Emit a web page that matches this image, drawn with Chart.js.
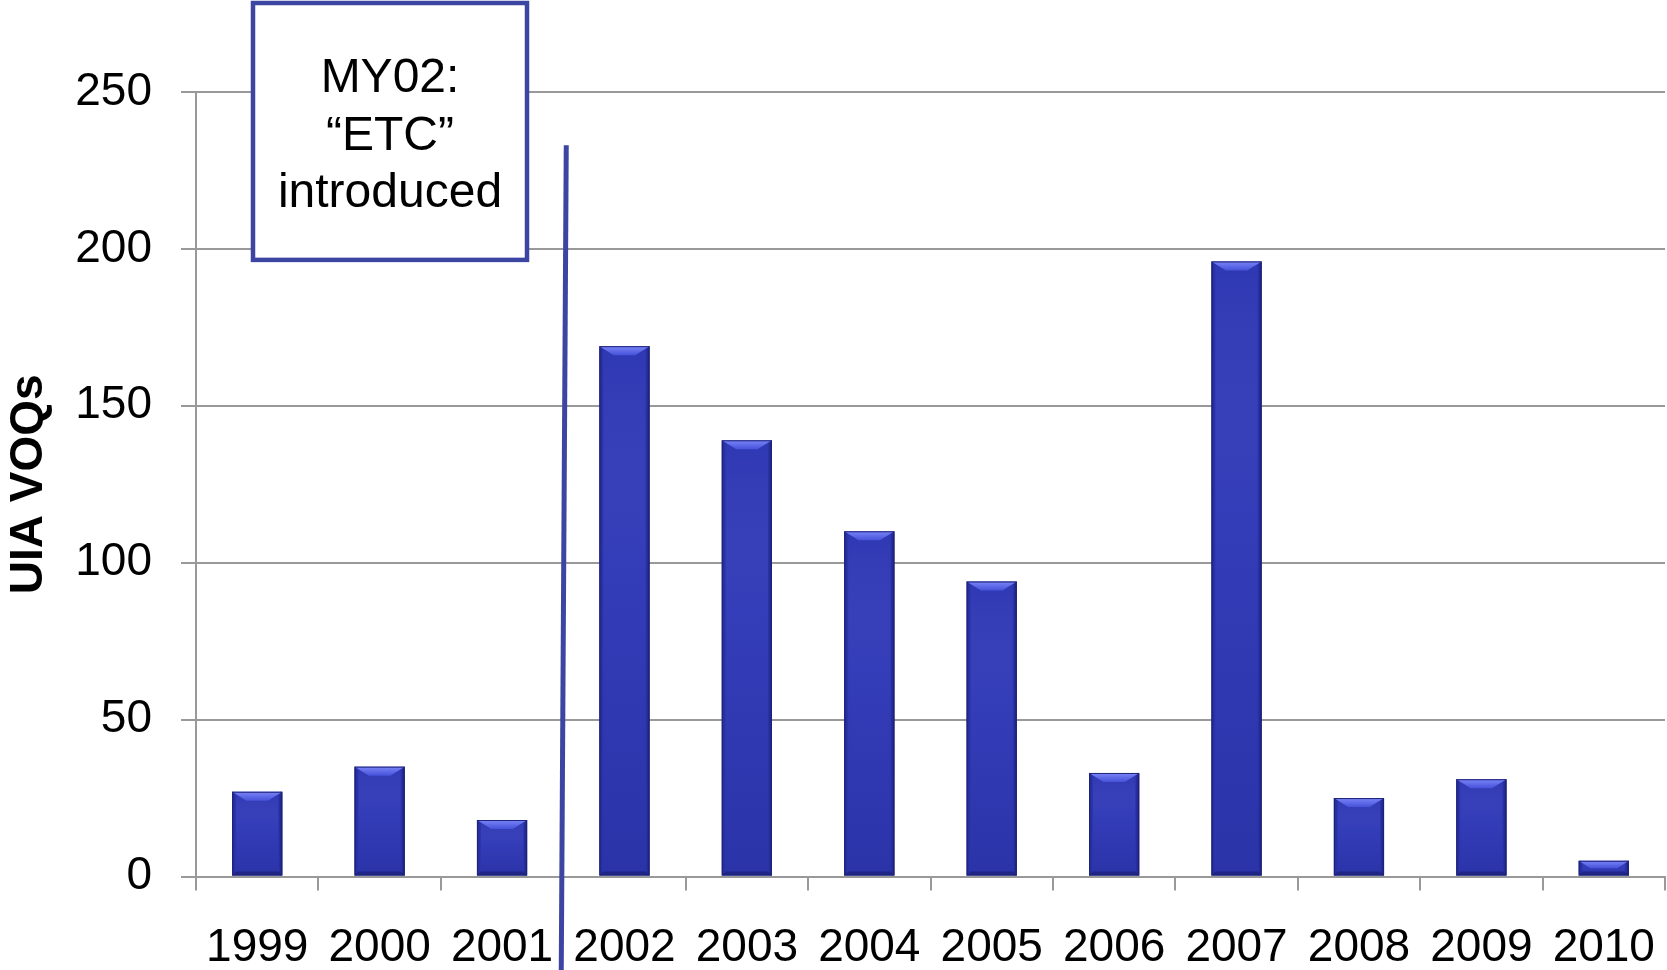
<!DOCTYPE html>
<html>
<head>
<meta charset="utf-8">
<script src="https://cdn.jsdelivr.net/npm/chart.js"></script>
<style>
  body { margin: 0; background: #fff; }
  #wrap { width: 1667px; height: 970px; position: relative; }
</style>
</head>
<body>
<div id="wrap">
  <canvas id="myChart"></canvas>
</div>
<script>
    const years = ['1999', '2000', '2001', '2002', '2003', '2004', '2005', '2006', '2007', '2008', '2009', '2010'];
    const voqs = [27, 35, 18, 169, 139, 110, 94, 33, 196, 25, 31, 5];
    const yTicks = [0, 50, 100, 150, 200, 250];
    const noteLines = ['MY02:', '\u201CETC\u201D', 'introduced'];

    const FONT = '"Liberation Sans", Arial, sans-serif';
    const GRID = '#999999';
    const NOTE_BLUE = '#3c45a2';

    // bevel look for the bars, drawn on top of the library's bar elements
    const bevel = {
        id: 'bevel',
        afterDatasetsDraw(chart) {
            const ctx = chart.ctx;
            const meta = chart.getDatasetMeta(0);
            ctx.save();
            meta.data.forEach(bar => {
                const left = bar.x - bar.width / 2;
                const right = bar.x + bar.width / 2;
                const top = bar.y;
                const bottom = bar.base;
                const h = bottom - top;
                const b = Math.min(9, h / 2);
                const s = 4;

                // side shading
                let g = ctx.createLinearGradient(left, 0, right, 0);
                g.addColorStop(0, 'rgba(20,25,110,0.55)');
                g.addColorStop(0.09, 'rgba(20,25,110,0)');
                g.addColorStop(0.91, 'rgba(20,25,110,0)');
                g.addColorStop(1, 'rgba(15,20,90,0.7)');
                ctx.fillStyle = g;
                ctx.fillRect(left, top, right - left, h);

                // vertical shading, lighter in the middle
                g = ctx.createLinearGradient(0, top, 0, bottom);
                g.addColorStop(0, 'rgba(255,255,255,0)');
                g.addColorStop(0.4, 'rgba(90,100,220,0.12)');
                g.addColorStop(1, 'rgba(10,15,80,0.12)');
                ctx.fillStyle = g;
                ctx.fillRect(left + s, top, right - left - 2 * s, h);

                // top bevel
                g = ctx.createLinearGradient(0, top, 0, top + b);
                g.addColorStop(0, '#7a85f7');
                g.addColorStop(1, '#4652da');
                ctx.fillStyle = g;
                ctx.beginPath();
                ctx.moveTo(left, top);
                ctx.lineTo(right, top);
                ctx.lineTo(right - b * 1.6, top + b);
                ctx.lineTo(left + b * 1.6, top + b);
                ctx.closePath();
                ctx.fill();

                // bottom bevel
                ctx.fillStyle = 'rgba(15,20,90,0.45)';
                ctx.beginPath();
                ctx.moveTo(left, bottom);
                ctx.lineTo(right, bottom);
                ctx.lineTo(right - s, bottom - s);
                ctx.lineTo(left + s, bottom - s);
                ctx.closePath();
                ctx.fill();

                ctx.strokeStyle = '#1d2378';
                ctx.lineWidth = 1;
                ctx.strokeRect(left + 0.5, top + 0.5, right - left - 1, h - 1);
            });
            ctx.restore();
        }
    };

    // MY02 note box and the marker line between 2001 and 2002
    const note = {
        id: 'note',
        afterDraw(chart) {
            const {ctx, chartArea, scales: {x, y}} = chart;
            ctx.save();

            const lx = x.getPixelForValue(2.5);
            ctx.strokeStyle = NOTE_BLUE;
            ctx.lineWidth = 5;
            ctx.beginPath();
            ctx.moveTo(lx + 3, y.getPixelForValue(233));
            ctx.lineTo(lx - 2, chart.height);
            ctx.stroke();

            const bx = chartArea.left + 57;
            const bw = 274;
            const by = 3;
            const bh = y.getPixelForValue(196.5) - by;
            ctx.fillStyle = '#fff';
            ctx.fillRect(bx, by, bw, bh);
            ctx.lineWidth = 4.5;
            ctx.strokeRect(bx, by, bw, bh);

            ctx.fillStyle = '#000';
            ctx.font = '48px ' + FONT;
            ctx.textAlign = 'center';
            ctx.textBaseline = 'alphabetic';
            noteLines.forEach((t, i) => {
                ctx.fillText(t, bx + bw / 2, 92 + i * 57.5);
            });
            ctx.restore();
        }
    };

    const data = {
        labels: years,
        datasets: [{
            label: 'UIA VOQs',
            data: voqs,
            backgroundColor: '#2f38b4',
            borderWidth: 0,
            barPercentage: 0.82,
            categoryPercentage: 0.5
        }]
    };

    const config = {
        type: 'bar',
        data,
        options: {
            responsive: true,
            maintainAspectRatio: false,
            animation: false,
            layout: {
                padding: { top: 92, right: 2, left: 0, bottom: 0 }
            },
            plugins: {
                legend: { display: false },
                tooltip: { enabled: false }
            },
            scales: {
                x: {
                    afterFit(scale) {
                        scale.height = 93.5;
                    },
                    grid: {
                        offset: true,
                        drawOnChartArea: false,
                        drawTicks: true,
                        tickLength: 14,
                        color: GRID,
                        lineWidth: 2
                    },
                    border: { color: GRID, width: 2 },
                    ticks: {
                        autoSkip: false,
                        maxRotation: 0,
                        padding: 10,
                        color: '#000',
                        font: { family: FONT, size: 46, lineHeight: 2.1 }
                    }
                },
                y: {
                    min: 0,
                    max: 250,
                    afterBuildTicks(scale) {
                        scale.ticks = yTicks.map(v => ({ value: v }));
                    },
                    afterFit(scale) {
                        scale.width = 196;
                    },
                    grid: {
                        color: GRID,
                        lineWidth: 2,
                        tickLength: 15
                    },
                    border: { color: GRID, width: 2 },
                    ticks: {
                        padding: 29,
                        color: '#000',
                        font: { family: FONT, size: 46 }
                    },
                    title: {
                        display: true,
                        text: 'UIA VOQs',
                        color: '#000',
                        padding: { top: 2, bottom: 0 },
                        font: { family: FONT, size: 46, weight: 'bold' }
                    }
                }
            }
        },
        plugins: [bevel, note]
    };

    const myChart = new Chart(document.getElementById('myChart'), config);
</script>
</body>
</html>
